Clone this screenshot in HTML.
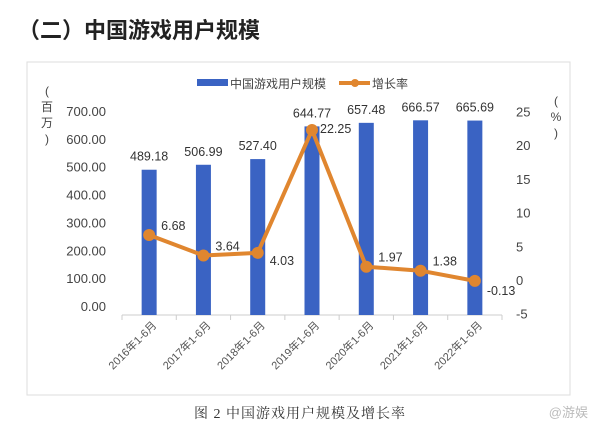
<!DOCTYPE html>
<html><head><meta charset="utf-8"><style>
body{margin:0;width:600px;height:435px;background:#fff;overflow:hidden;font-family:"Liberation Sans","Noto Sans CJK SC",sans-serif}
svg text{font-family:"Liberation Sans","Noto Sans CJK SC",sans-serif}
</style></head><body>
<svg width="600" height="435" viewBox="0 0 600 435">
<text x="18" y="38" font-size="22" font-weight="bold" fill="#222">（二）中国游戏用户规模</text>
<rect x="27" y="62" width="543" height="333" fill="none" stroke="#ddd"/>
<g id="chart"></g>
<text x="300" y="418" text-anchor="middle" font-size="14" fill="#333" letter-spacing="1" style="font-family:'Liberation Serif','Noto Serif CJK SC',serif">图 2 中国游戏用户规模及增长率</text>
<text x="588" y="417" text-anchor="end" font-size="13" fill="#bbb">@游娱</text>
</svg>
<script>
const categories=["2016年1-6月","2017年1-6月","2018年1-6月","2019年1-6月","2020年1-6月","2021年1-6月","2022年1-6月"];
const users=[489.18,506.99,527.40,644.77,657.48,666.57,665.69];
const growth=[6.68,3.64,4.03,22.25,1.97,1.38,-0.13];
const leftTicks=[0,100,200,300,400,500,600,700];
const rightTicks=[-5,0,5,10,15,20,25];
const NS="http://www.w3.org/2000/svg";
const g=document.getElementById('chart');
function mk(t,a,p){const e=document.createElementNS(NS,t);for(const k in a)e.setAttribute(k,a[k]);(p||g).appendChild(e);return e;}
const x0=122,x1=502,bw=(x1-x0)/categories.length;
const xc=i=>x0+bw*(i+0.5);
const yL=v=>306-(v/700)*195;
const yR=v=>280-v*6.74;
leftTicks.forEach(v=>{const t=mk('text',{x:106,y:yL(v)+5,'text-anchor':'end','font-size':13,fill:'#444'});t.textContent=v.toFixed(2);

});
rightTicks.forEach(v=>{const t=mk('text',{x:516,y:yR(v)+5,'font-size':13,fill:'#444'});t.textContent=v;

});
[['(',95],['百',111],['万',127],[')',143]].forEach(([c,y])=>{const t=mk('text',{x:47,y:y,'font-size':12,fill:'#444','text-anchor':'middle'});t.textContent=c;

});
[['(',105],['%',121],[')',137]].forEach(([c,y])=>{const t=mk('text',{x:556,y:y,'font-size':12,fill:'#444','text-anchor':'middle'});t.textContent=c;

});
const ax=mk('line',{x1:x0,x2:x1,y1:315,y2:315,stroke:'#ccc'});


for(let i=0;i<=categories.length;i++){const tk=mk('line',{x1:x0+bw*i,x2:x0+bw*i,y1:315,y2:320,stroke:'#ccc'});

}
users.forEach((v,i)=>{const b=mk('rect',{x:xc(i)-7.5,y:yL(v),width:15,height:315-yL(v),fill:'#3a63c3'});


const t=mk('text',{x:xc(i),y:yL(v)-9,'text-anchor':'middle','font-size':12.5,fill:'#333'});t.textContent=v.toFixed(2);


const xl=mk('text',{x:0,y:0,'text-anchor':'end','font-size':11,fill:'#555',transform:`translate(${xc(i)+8},${326}) rotate(-45)`});xl.textContent=categories[i];

});
const pl=mk('polyline',{points:growth.map((v,i)=>xc(i)+','+yR(v)).join(' '),fill:'none',stroke:'#e0862f','stroke-width':4,'stroke-linejoin':'round'});


growth.forEach((v,i)=>{const c=mk('circle',{cx:xc(i),cy:yR(v),r:6,fill:'#e0862f'});


const dy=i==3?3:(i==6?14:(i==2?12:-5));
const t=mk('text',{x:xc(i)+(i==3?8:12),y:yR(v)+dy,'font-size':12.5,fill:'#333'});t.textContent=v.toFixed(2);

});
const lr=mk('rect',{x:197,y:79,width:31,height:7,fill:'#3a63c3'});


const lt=mk('text',{x:230,y:88,'font-size':12,fill:'#444'});lt.textContent='中国游戏用户规模';


const ll=mk('line',{x1:339,x2:370,y1:83,y2:83,stroke:'#e0862f','stroke-width':4});


const lc=mk('circle',{cx:355,cy:83,r:4,fill:'#e0862f'});


const lt2=mk('text',{x:372,y:88,'font-size':12,fill:'#444'});lt2.textContent='增长率';


</script>
</body></html>
